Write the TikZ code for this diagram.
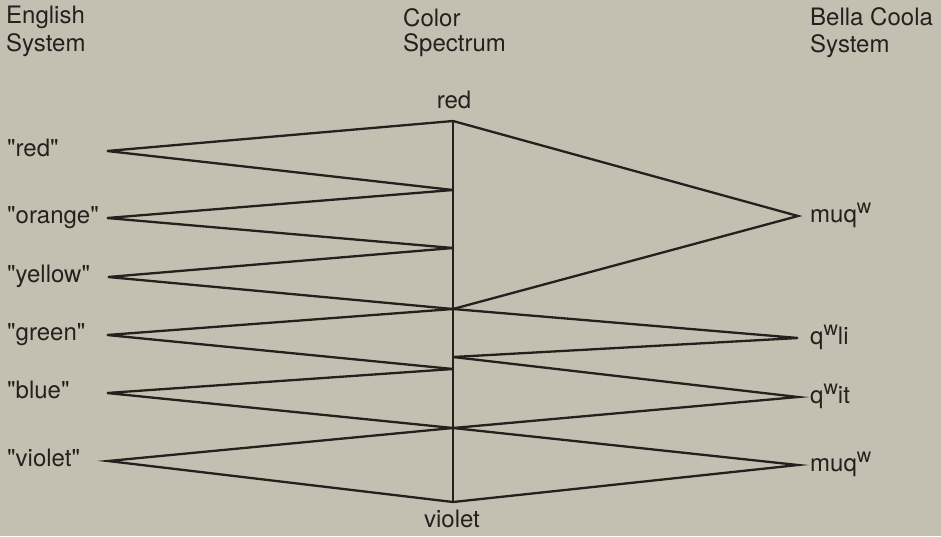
\documentclass[tikz,border=0pt]{standalone}
\usepackage{fontspec}
\setmainfont{TeX Gyre Heros}[Ligatures=TeXOff]
\definecolor{paper}{RGB}{196,192,177}
\definecolor{ink}{RGB}{36,32,30}
\newcommand{\supw}{\raisebox{9pt}{\fontsize{20}{20}\selectfont w}}
\begin{document}
\begin{tikzpicture}[x=1pt,y=-1pt,
  lbl/.style={inner sep=0pt,anchor=base west,text=ink,font=\fontsize{24}{24}\selectfont},
  clbl/.style={inner sep=0pt,anchor=base,text=ink,font=\fontsize{24}{24}\selectfont},
  link/.style={draw=ink,line width=2.3pt,line join=miter}]
\fill[paper] (0,0) rectangle (941,536);
\useasboundingbox (0,0) rectangle (941,536);

% column headings
\node[lbl] (hEn1) at (6,23) {English};
\node[lbl] (hEn2) at (6,51) {System};
\node[lbl] (hSp1) at (403,26) {Color};
\node[lbl] (hSp2) at (403,51) {Spectrum};
\node[lbl] (hBc1) at (810,25) {Bella Coola};
\node[lbl] (hBc2) at (810,52) {System};

% points on the spectrum
\coordinate (sRed) at (453,121);
\coordinate (sA) at (453,190);
\coordinate (sB) at (453,248);
\coordinate (sC) at (453,309);
\coordinate (sE) at (453,357);
\coordinate (sD) at (453,369);
\coordinate (sF) at (453,428);
\coordinate (sViolet) at (453,502);
\node[clbl] (tRed) at (454,108) {red};
\node[clbl] (tViolet) at (452,527) {violet};

% English terms
\coordinate (eRed) at (107,151);
\coordinate (eOrange) at (107,218);
\coordinate (eYellow) at (108,277);
\coordinate (eGreen) at (107,335);
\coordinate (eBlue) at (107,393);
\coordinate (eViolet) at (108,461);
\node[lbl] (wRed) at (7,156.5) {"red"};
\node[lbl] (wOrange) at (7,223.5) {"orange"};
\node[lbl] (wYellow) at (7,282.5) {"yellow"};
\node[lbl] (wGreen) at (7,340.5) {"green"};
\node[lbl] (wBlue) at (7,398.5) {"blue"};
\node[lbl] (wViolet) at (7,466.5) {"violet"};

% Bella Coola terms
\coordinate (bMuq) at (798,216);
\coordinate (bQli) at (798,338);
\coordinate (bQit) at (798,397);
\coordinate (bMuqB) at (798,465);
\node[lbl] (kMuq) at (810,222) {muq\supw};
\node[lbl] (kQli) at (810,344) {q\supw li};
\node[lbl] (kQit) at (810,403) {q\supw it};
\node[lbl] (kMuqB) at (810,471) {muq\supw};

% the spectrum itself
\draw[link] (sRed) -- (sViolet);

% English ranges
\draw[link] (sRed) -- (eRed) -- (sA);
\draw[link] (sA) -- (eOrange) -- (sB);
\draw[link] (sB) -- (eYellow) -- (sC);
\draw[link] (sC) -- (eGreen) -- (sD);
\draw[link] (sD) -- (eBlue) -- (sF);
\draw[link] (sF) -- (eViolet) -- (sViolet);

% Bella Coola ranges
\draw[link] (sRed) -- (bMuq) -- (sC);
\draw[link] (sC) -- (bQli) -- (sE);
\draw[link] (sE) -- (bQit) -- (sF);
\draw[link] (sF) -- (bMuqB) -- (sViolet);
\end{tikzpicture}
\end{document}
